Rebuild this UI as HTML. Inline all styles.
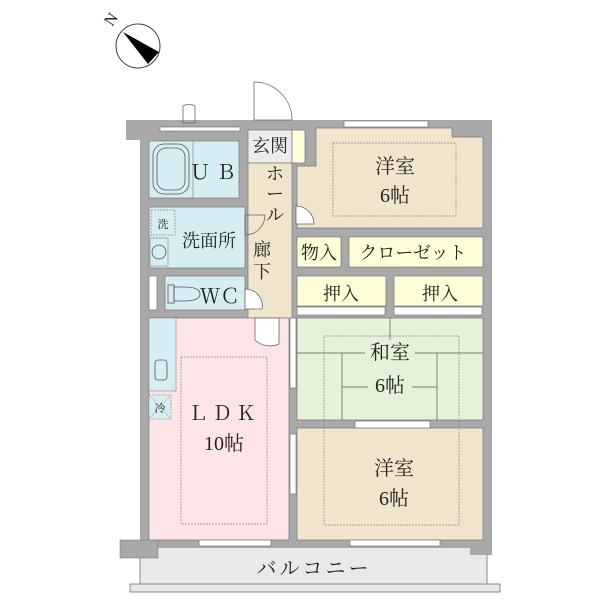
<!DOCTYPE html>
<html><head><meta charset="utf-8"><style>body{margin:0;background:#fff}svg{display:block}text{font-family:"Liberation Serif","Noto Serif CJK SC",serif;fill:#222}</style></head><body>
<svg width="600" height="600" viewBox="0 0 600 600">
<!-- compass -->
<circle cx="138" cy="46" r="22" fill="#fff" stroke="#444" stroke-width="1"/>
<polygon points="123,32 159,52 148,64" fill="#000"/>
<text x="112" y="24" font-size="16" transform="rotate(-55 112 20)" text-anchor="middle">N</text>
<!-- balcony -->
<rect x="140" y="546" width="347" height="38" fill="#e9e9e9" stroke="#888" stroke-width="1"/>
<rect x="130" y="584" width="370" height="8" fill="#e9e9e9" stroke="#888" stroke-width="1"/>
<text x="314" y="575" font-size="20" text-anchor="middle" letter-spacing="3">バルコニー</text>
<!-- walls base -->
<rect x="140" y="120" width="352" height="428" fill="#a9a9a9"/>
<rect x="126" y="120" width="22" height="20" fill="#a9a9a9"/>
<rect x="120" y="540" width="38" height="18" fill="#a9a9a9" stroke="#777" stroke-width="0.5"/>
<rect x="470" y="540" width="22" height="15" fill="#a9a9a9"/>
<!-- rooms -->
<rect x="149" y="141" width="90" height="57" fill="#d6eef3" stroke="#777" stroke-width="0.7"/>
<line x1="193" y1="141" x2="193" y2="198" stroke="#777" stroke-width="0.6"/>
<rect x="149" y="207" width="96" height="61" fill="#d6eef3" stroke="#777" stroke-width="0.7"/>
<rect x="165" y="276" width="80" height="34" fill="#d6eef3" stroke="#777" stroke-width="0.7"/>
<rect x="149" y="276" width="8" height="34" fill="#fff" stroke="#777" stroke-width="0.7"/>
<rect x="248" y="130" width="44" height="33" fill="#ececec" stroke="#777" stroke-width="0.7"/>
<rect x="292" y="130" width="13" height="33" fill="#fefdd8" stroke="#777" stroke-width="0.7"/>
<rect x="248" y="163" width="44" height="155" fill="#f0e4cc" stroke="#777" stroke-width="0.7"/>
<polygon points="316,128 452,128 452,137 483,137 483,228 297,228 297,166 316,166" fill="#f0e4cc" stroke="#777" stroke-width="0.7"/>
<rect x="297" y="237" width="44" height="30" fill="#fefdd8" stroke="#777" stroke-width="0.7"/>
<rect x="349" y="237" width="134" height="30" fill="#fefdd8" stroke="#777" stroke-width="0.7"/>
<rect x="297" y="276" width="89" height="30" fill="#fefdd8" stroke="#777" stroke-width="0.7"/>
<rect x="394" y="276" width="89" height="30" fill="#fefdd8" stroke="#777" stroke-width="0.7"/>
<rect x="297" y="318" width="186" height="102" fill="#e5f2d9" stroke="#777" stroke-width="0.7"/>
<rect x="297" y="428" width="186" height="112" fill="#f0e4cc" stroke="#777" stroke-width="0.7"/>
<rect x="149" y="318" width="140" height="222" fill="#fde4e6" stroke="#777" stroke-width="0.7"/>
<rect x="149" y="318" width="27" height="73" fill="#d6eef3" stroke="#777" stroke-width="0.5"/>
<rect x="149" y="395" width="22" height="24" fill="#d6eef3" stroke="#777" stroke-width="0.5" stroke-dasharray="2 1"/>
<line x1="149" y1="395" x2="171" y2="419" stroke="#999" stroke-width="0.5"/><line x1="171" y1="395" x2="149" y2="419" stroke="#999" stroke-width="0.5"/>
<text x="160" y="412" font-size="11" text-anchor="middle">冷</text>
<rect x="155" y="360" width="12" height="20" rx="3" fill="none" stroke="#555" stroke-width="0.8"/>
<!-- windows -->
<g fill="#fff" stroke="#777" stroke-width="0.7">
<rect x="160" y="127" width="80" height="4"/>
<rect x="344" y="121" width="84" height="6"/>
<rect x="297" y="307" width="88" height="8"/><rect x="394" y="307" width="88" height="8"/>
<rect x="355" y="421" width="75" height="7"/>
<rect x="199" y="540" width="72" height="6"/><rect x="350" y="540" width="90" height="6"/>
<rect x="290" y="318" width="6" height="70"/><rect x="290" y="434" width="6" height="60"/>
</g>
<!-- tatami lines -->
<g stroke="#555" stroke-width="0.7" fill="none">
<line x1="297" y1="353" x2="483" y2="353"/><line x1="390" y1="318" x2="390" y2="353"/>
<line x1="342" y1="353" x2="342" y2="420"/><line x1="437" y1="353" x2="437" y2="420"/>
<line x1="342" y1="387" x2="437" y2="387"/>
</g>
<g fill="none" stroke="#888" stroke-width="0.7" stroke-dasharray="2 1">
<rect x="333" y="143" width="123" height="73"/>
<rect x="181" y="357" width="86" height="167"/>
<rect x="324" y="336" width="135" height="189"/>
<rect x="151" y="210" width="24" height="25"/>
</g>
<!-- fixtures -->
<rect x="153" y="144" width="36" height="50" rx="11" fill="none" stroke="#555" stroke-width="0.8"/>
<rect x="157" y="148" width="28" height="42" rx="9" fill="none" stroke="#555" stroke-width="0.8"/>
<rect x="150" y="238" width="18" height="28" fill="none" stroke="#888" stroke-width="0.6"/>
<circle cx="159" cy="252" r="7" fill="none" stroke="#555" stroke-width="0.8"/>
<rect x="168" y="285" width="6" height="18" fill="none" stroke="#555" stroke-width="0.8"/>
<path d="M174 287 h10 q16 0 16 7 q0 7 -16 7 h-10 z" fill="none" stroke="#555" stroke-width="0.8"/>
<!-- doors -->
<g fill="#fff" stroke="#666" stroke-width="0.8">
<path d="M254 82 v38 h38 A38 38 0 0 0 254 82 z"/>
<path d="M183 106 v17 h12 v-17 A12 12 0 0 0 183 106z" fill="none"/>
<path d="M245 215 v20 A20 20 0 0 0 265 215z" fill="none"/>
<path d="M296 206 v18 h18 A18 18 0 0 0 296 206z"/>
<path d="M245 289 v20 h17 A17 17 0 0 0 245 289z"/>
<path d="M255 318 v22 A22 22 0 0 0 279 344 v-26z"/>
</g>
<!-- labels -->
<text x="270" y="152" font-size="18" text-anchor="middle">玄関</text>
<text x="216" y="179" font-size="20" text-anchor="middle" letter-spacing="6">ＵＢ</text>
<text x="209" y="247" font-size="18" text-anchor="middle">洗面所</text>
<text x="163" y="228" font-size="11" text-anchor="middle">洗</text>
<text x="220" y="303" font-size="20" text-anchor="middle">ＷＣ</text>
<text x="275" y="180" font-size="18" text-anchor="middle">ホ</text>
<text x="275" y="200" font-size="18" text-anchor="middle">ー</text>
<text x="275" y="221" font-size="18" text-anchor="middle">ル</text>
<text x="262" y="256" font-size="18" text-anchor="middle">廊</text>
<text x="262" y="278" font-size="18" text-anchor="middle">下</text>
<text x="395" y="173" font-size="20" text-anchor="middle">洋室</text>
<text x="395" y="202" font-size="20" text-anchor="middle">6帖</text>
<text x="319" y="259" font-size="18" text-anchor="middle">物入</text>
<text x="413" y="259" font-size="18" text-anchor="middle">クローゼット</text>
<text x="341" y="300" font-size="18" text-anchor="middle">押入</text>
<text x="440" y="300" font-size="18" text-anchor="middle">押入</text>
<rect x="365" y="340" width="50" height="20" fill="#e5f2d9"/>
<text x="390" y="359" font-size="20" text-anchor="middle">和室</text>
<rect x="368" y="374" width="44" height="20" fill="#e5f2d9"/>
<text x="390" y="392" font-size="20" text-anchor="middle">6帖</text>
<text x="224" y="420" font-size="20" text-anchor="middle" letter-spacing="4">ＬＤＫ</text>
<text x="224" y="450" font-size="20" text-anchor="middle">10帖</text>
<text x="394" y="475" font-size="20" text-anchor="middle">洋室</text>
<text x="394" y="505" font-size="20" text-anchor="middle">6帖</text>
</svg>
</body></html>
